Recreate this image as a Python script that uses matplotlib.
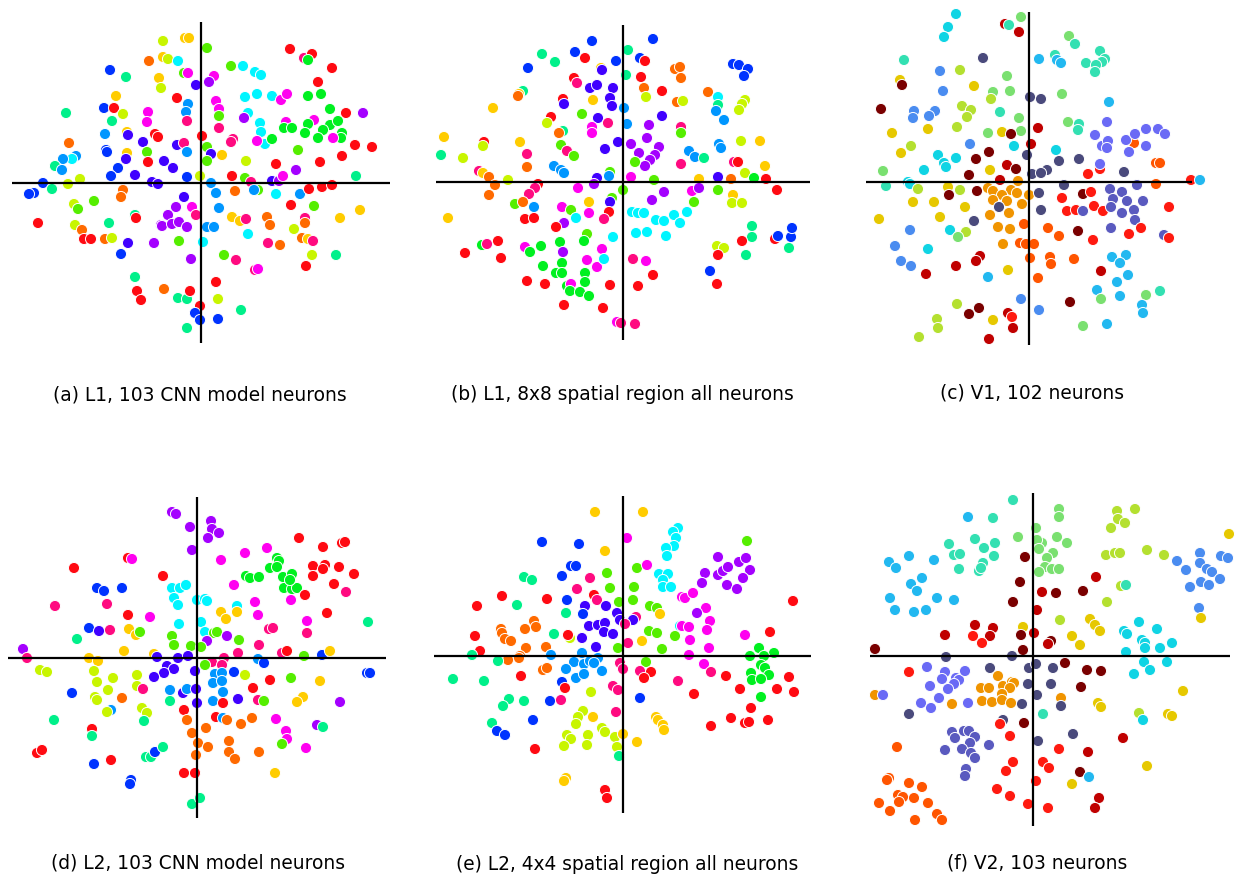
import matplotlib
matplotlib.use("Agg")
import matplotlib.pyplot as plt

# 2-D embeddings of neuron tuning, one list of (x, y, colour code) per panel
pts_a = [
    (-38,142,'l'),(-16,145,'y'),(-12,145,'y'),(-52,122,'o'),(-38,126,'y'),(-33,124,'l'),(-23,122,'c'),
    (-91,113,'b'),(-75,106,'s'),(-42,105,'y'),(-17,110,'g'),(-13,110,'m'),(-5,98,'v'),(-40,95,'l'),
    (-24,85,'r'),(-85,87,'y'),(-97,75,'b'),(-87,75,'r'),(-78,69,'l'),(-135,70,'s'),(-13,79,'a'),
    (-15,71,'a'),(-14,62,'k'),(-89,62,'s'),(-53,71,'m'),(-54,61,'m'),(-96,49,'a'),(-74,51,'y'),
    (-73,48,'v'),(-46,49,'r'),(-43,46,'r'),(1,47,'r'),(-132,40,'o'),(-58,41,'v'),(-24,38,'v'),
    (-17,40,'k'),(-95,33,'b'),(-94,31,'b'),(-74,30,'y'),(-75,24,'v'),(-54,31,'g'),(-53,21,'r'),
    (-14,31,'a'),(-125,27,'a'),(-129,24,'c'),(-138,24,'a'),(-146,17,'s'),(-139,13,'a'),(-37,22,'v'),
    (-28,15,'v'),(-83,15,'b'),(-90,7,'b'),(-66,8,'v'),(-121,4,'l'),(-14,6,'b'),(-1,7,'l'),
    (-158,0,'b'),(-133,-1,'l'),(-167,-10,'b'),(-172,-11,'b'),(-149,-6,'s'),(-49,1,'v'),(-43,-1,'v'),
    (-78,-7,'o'),(-80,-14,'o'),(-17,-14,'v'),(-127,-21,'l'),(-123,-26,'g'),(-107,-18,'g'),
    (-25,-24,'p'),(-33,-32,'p'),(-9,-24,'m'),(-5,-32,'k'),(-163,-40,'r'),(-126,-42,'l'),(-119,-47,'o'),
    (-92,-40,'s'),(-66,-32,'s'),(-65,-35,'r'),(-40,-42,'p'),(-39,-43,'p'),(-29,-41,'p'),(-22,-39,'p'),
    (-14,-44,'p'),(-117,-56,'r'),(-110,-56,'r'),(-96,-56,'o'),(-89,-55,'l'),(-73,-60,'v'),(-80,-71,'b'),
    (-47,-60,'p'),(-22,-58,'g'),(2,-59,'c'),(-10,-76,'p'),(-66,-94,'s'),(-64,-108,'r'),
    (-60,-117,'r'),(-37,-106,'o'),(-23,-115,'s'),(-14,-116,'s'),(-11,-108,'r'),(-1,-123,'r'),
    (-6,-130,'b'),(-1,-137,'b'),(-14,-145,'s'),
    (6,135,'g'),(89,134,'r'),(103,125,'k'),(111,129,'r'),(107,123,'G'),(131,115,'r'),(30,117,'g'),
    (42,117,'c'),(54,111,'c'),(60,108,'c'),(13,107,'m'),(8,101,'p'),(117,101,'r'),(44,86,'c'),
    (56,89,'c'),(71,87,'c'),(80,83,'m'),(86,89,'m'),(107,87,'G'),(120,89,'G'),(15,82,'m'),(18,74,'m'),
    (18,67,'g'),(129,74,'G'),(145,70,'r'),(162,70,'p'),(47,70,'c'),(43,65,'p'),(59,60,'c'),(60,51,'c'),
    (64,39,'c'),(85,61,'m'),(83,55,'G'),(91,55,'G'),(113,63,'m'),(107,59,'G'),(129,58,'G'),(137,62,'G'),
    (122,53,'G'),(104,50,'G'),(117,45,'G'),(141,50,'G'),(140,45,'G'),(18,55,'k'),(32,44,'k'),(30,41,'k'),
    (56,42,'m'),(71,44,'G'),(132,45,'m'),(154,38,'r'),(171,36,'r'),(6,36,'g'),(10,29,'v'),(6,22,'g'),
    (21,28,'y'),(97,33,'g'),(141,27,'r'),(45,22,'l'),(75,19,'r'),(119,21,'r'),(95,13,'p'),(155,7,'s'),
    (31,7,'r'),(44,5,'g'),(50,1,'k'),(71,2,'v'),(78,2,'p'),(82,7,'m'),(10,0,'a'),(15,-10,'a'),(34,-8,'o'),
    (57,-7,'g'),(53,-7,'a'),(75,-11,'c'),(99,-11,'a'),(108,-6,'r'),(121,-4,'r'),(131,-2,'r'),(90,-22,'r'),
    (113,-23,'g'),(18,-25,'a'),(159,-27,'y'),(31,-34,'y'),(39,-38,'y'),(45,-36,'k'),(66,-34,'o'),(69,-42,'o'),
    (104,-35,'k'),(104,-40,'o'),(139,-35,'y'),(6,-44,'a'),(13,-44,'a'),(47,-51,'c'),(93,-46,'l'),
    (101,-55,'o'),(107,-56,'y'),(112,-58,'k'),(67,-60,'k'),(79,-62,'o'),(23,-72,'g'),(35,-77,'k'),
    (54,-87,'k'),(57,-86,'m'),(111,-72,'l'),(135,-72,'s'),(105,-83,'r'),(15,-99,'r'),(17,-116,'l'),
    (40,-127,'s'),(17,-136,'b'),
]

pts_b = [
    (-31,141,'b'),(-81,128,'s'),(-68,120,'s'),(-48,130,'b'),(-38,124,'r'),(-7,121,'b'),(-95,114,'b'),
    (-22,114,'y'),(-21,112,'v'),(-49,104,'r'),(-46,99,'k'),(-33,94,'v'),(-26,97,'v'),(-10,94,'v'),
    (-100,91,'s'),(-104,88,'y'),(-105,86,'o'),(-13,84,'v'),(-11,76,'v'),(-130,74,'y'),(-30,82,'y'),
    (-60,83,'r'),(-59,78,'v'),(1,74,'a'),(-41,68,'g'),(-72,65,'r'),(-76,59,'l'),(-25,64,'v'),(-15,59,'k'),
    (-31,55,'m'),(-31,49,'m'),(-60,51,'s'),(-64,49,'o'),(-179,45,'y'),(-139,40,'r'),(-140,36,'l'),
    (-103,40,'y'),(-5,40,'v'),(-62,37,'g'),(-56,31,'k'),(-49,26,'g'),(-18,33,'v'),(-182,27,'s'),
    (-160,24,'l'),(-96,28,'k'),(-96,15,'o'),(-69,16,'a'),(-62,12,'a'),(-59,9,'a'),(-144,11,'k'),
    (-140,9,'y'),(-134,5,'o'),(-13,10,'g'),(-14,6,'a'),(-26,4,'v'),(-29,-2,'p'),(-115,2,'l'),(-85,-2,'r'),
    (-88,-6,'k'),(-128,-3,'o'),(-134,-13,'o'),(-94,-12,'k'),(-45,-6,'m'),(0,-8,'g'),(-11,-16,'g'),
    (-13,-20,'v'),(-34,-20,'y'),(-108,-22,'g'),(-100,-20,'o'),(-89,-25,'a'),(-61,-25,'m'),(-52,-28,'g'),
    (-175,-36,'y'),(-98,-37,'r'),(-89,-36,'r'),(-14,-30,'r'),(-19,-37,'k'),(-34,-31,'m'),(-47,-36,'c'),
    (-59,-41,'p'),(-67,-45,'r'),(-36,-52,'g'),(-39,-59,'G'),(-10,-55,'c'),(-63,-60,'G'),(-125,-59,'r'),
    (-141,-63,'G'),(-136,-62,'k'),(-158,-71,'r'),(-122,-76,'r'),(-98,-65,'m'),(-93,-70,'G'),(-82,-64,'G'),
    (-60,-70,'p'),(-21,-67,'m'),(-36,-78,'m'),(-26,-85,'m'),(-19,-77,'c'),(-61,-81,'G'),(-80,-84,'G'),
    (-67,-91,'G'),(-61,-91,'G'),(-38,-91,'G'),(-38,-100,'G'),(-96,-99,'r'),(-78,-102,'r'),(-56,-104,'G'),
    (-52,-102,'m'),(-53,-109,'G'),(-43,-110,'G'),(-34,-114,'G'),(-13,-103,'r'),(-59,-123,'r'),
    (-20,-126,'r'),(-6,-140,'m'),(-2,-141,'k'),
    (30,143,'b'),(5,132,'s'),(17,124,'b'),(22,121,'r'),(3,107,'s'),(18,105,'r'),(52,113,'o'),(57,115,'o'),
    (58,104,'o'),(21,94,'o'),(23,85,'l'),(39,91,'r'),(54,80,'o'),(60,81,'l'),(85,90,'o'),(95,85,'c'),
    (95,77,'s'),(93,71,'a'),(101,62,'a'),(110,118,'b'),(116,117,'b'),(125,113,'b'),(121,106,'b'),
    (122,82,'l'),(119,78,'l'),(116,72,'l'),(39,66,'v'),(4,58,'a'),(26,57,'p'),(58,55,'k'),(58,49,'g'),
    (24,44,'p'),(8,38,'p'),(16,29,'p'),(36,35,'p'),(32,27,'p'),(27,22,'p'),(22,16,'p'),(12,20,'g'),
    (118,41,'l'),(137,41,'y'),(96,38,'a'),(98,34,'a'),(66,31,'a'),(72,25,'a'),(81,24,'s'),(58,18,'k'),
    (111,20,'k'),(115,20,'r'),(142,16,'y'),(122,9,'l'),(8,5,'m'),(31,2,'g'),(76,3,'y'),(95,5,'v'),
    (108,3,'o'),(131,4,'G'),(143,3,'r'),(154,-8,'r'),(41,-10,'p'),(29,-18,'p'),(69,-9,'m'),(76,-6,'p'),
    (71,-20,'g'),(95,-8,'g'),(110,-13,'y'),(109,-21,'l'),(119,-21,'l'),(9,-30,'c'),(15,-31,'c'),
    (21,-31,'c'),(33,-38,'c'),(41,-39,'c'),(51,-33,'c'),(64,-30,'c'),(57,-41,'c'),(13,-51,'c'),
    (24,-50,'c'),(43,-54,'c'),(129,-44,'s'),(129,-55,'s'),(119,-59,'r'),(152,-57,'r'),(155,-54,'b'),
    (168,-55,'b'),(169,-46,'b'),(166,-66,'s'),(94,-64,'l'),(101,-66,'l'),(95,-73,'r'),(123,-73,'s'),
    (10,-77,'k'),(23,-79,'m'),(30,-93,'r'),(15,-104,'r'),(87,-89,'b'),(94,-102,'r'),(12,-142,'k'),
]

pts_c = [
    (-73,168,'c'),(-81,155,'c'),(-85,145,'c'),(-24,158,'R'),(-20,157,'s'),(-8,165,'g'),(-10,150,'R'),
    (-125,122,'s'),(-46,124,'n'),(-89,111,'b'),(-69,112,'l'),(-129,102,'y'),(-127,97,'D'),(-22,106,'g'),
    (-55,96,'y'),(-86,91,'b'),(-36,90,'g'),(-38,83,'l'),(-19,91,'g'),(1,85,'n'),(-148,73,'D'),(-115,71,'b'),
    (-116,64,'b'),(-94,71,'b'),(-100,66,'b'),(-67,76,'l'),(-58,72,'l'),(-62,65,'l'),(-29,70,'s'),
    (-10,64,'g'),(-72,55,'l'),(-101,53,'y'),(-137,49,'y'),(-41,49,'g'),(-8,51,'g'),(-27,50,'y'),
    (-18,48,'D'),(9,54,'R'),(-59,38,'b'),(-118,36,'l'),(-128,29,'y'),(-15,36,'c'),(2,38,'R'),(-40,30,'D'),
    (-91,27,'c'),(-73,24,'c'),(-53,23,'D'),(-2,27,'n'),(-85,19,'c'),(-83,15,'c'),(-105,12,'c'),(-22,17,'R'),
    (-13,13,'D'),(-39,12,'y'),(-60,7,'D'),(-146,11,'g'),(-29,2,'R'),(-11,1,'O'),(3,8,'n'),(-143,-4,'s'),
    (-121,0,'c'),(-119,-2,'c'),(-111,-7,'l'),(-81,-5,'y'),(-80,-13,'D'),(-69,-8,'l'),(-52,-9,'D'),
    (-41,-6,'O'),(-36,-9,'O'),(-18,-8,'O'),(-12,-11,'O'),(-27,-13,'O'),(-22,-19,'O'),(-36,-18,'O'),
    (-30,-25,'n'),(-7,-22,'O'),(0,-13,'O'),(-116,-20,'y'),(-95,-20,'y'),(-64,-25,'y'),(-150,-37,'y'),
    (-89,-35,'y'),(-55,-39,'n'),(-20,-31,'O'),(-39,-33,'O'),(-31,-45,'O'),(-19,-47,'O'),(-5,-42,'o'),
    (-119,-48,'b'),(-79,-48,'c'),(-63,-50,'l'),(-71,-55,'g'),(-134,-64,'b'),(-26,-62,'O'),(-9,-61,'o'),
    (-3,-62,'o'),(5,-62,'o'),(-101,-67,'c'),(-128,-79,'b'),(-118,-84,'b'),(-103,-92,'R'),(-73,-84,'R'),
    (-49,-74,'R'),(-53,-79,'R'),(1,-76,'o'),(-41,-95,'a'),(-21,-88,'y'),(-8,-117,'b'),(-72,-122,'l'),
    (-50,-126,'D'),(-60,-132,'D'),(-92,-137,'l'),(-91,-146,'l'),(-110,-155,'l'),(-36,-138,'y'),
    (-21,-131,'R'),(-17,-135,'r'),(-16,-146,'R'),(-40,-157,'R'),
    (40,146,'g'),(46,138,'s'),(10,123,'a'),(26,127,'s'),(28,122,'a'),(32,119,'a'),(57,119,'s'),(71,131,'s'),
    (76,123,'s'),(73,120,'s'),(67,117,'s'),(66,110,'s'),(12,83,'n'),(33,88,'g'),(80,80,'a'),(39,60,'g'),
    (50,58,'s'),(49,52,'s'),(78,60,'v'),(66,47,'v'),(73,36,'v'),(79,41,'v'),(78,34,'v'),(105,39,'o'),
    (97,42,'v'),(106,48,'v'),(117,53,'v'),(129,53,'v'),(136,48,'v'),(117,36,'v'),(100,30,'v'),(27,32,'c'),
    (30,21,'n'),(50,23,'n'),(71,13,'r'),(71,18,'v'),(59,8,'r'),(127,19,'o'),(131,19,'o'),(95,10,'n'),
    (18,12,'n'),(12,9,'n'),(162,2,'r'),(171,2,'a'),(35,-3,'n'),(127,-2,'o'),(10,-11,'n'),(33,-16,'r'),
    (54,-12,'D'),(62,-10,'r'),(81,-7,'w'),(93,-10,'w'),(84,-17,'w'),(98,-19,'w'),(114,-19,'w'),(108,-3,'w'),
    (38,-29,'r'),(47,-28,'r'),(54,-29,'w'),(65,-24,'r'),(74,-29,'r'),(82,-25,'w'),(93,-31,'w'),(105,-28,'w'),
    (106,-38,'w'),(12,-28,'n'),(140,-25,'r'),(19,-46,'o'),(30,-54,'o'),(49,-49,'D'),(82,-46,'w'),
    (112,-46,'r'),(100,-52,'r'),(64,-58,'r'),(135,-53,'w'),(140,-56,'r'),(21,-75,'o'),(22,-82,'o'),
    (45,-77,'o'),(83,-75,'a'),(97,-73,'a'),(91,-81,'a'),(99,-93,'a'),(88,-100,'a'),(68,-108,'a'),(91,-114,'a'),
    (72,-89,'R'),(9,-96,'o'),(72,-117,'g'),(117,-113,'g'),(131,-109,'s'),(113,-123,'a'),(114,-131,'a'),
    (41,-120,'D'),(10,-128,'b'),(54,-144,'g'),(78,-142,'a'),
]

pts_d = [
    (-25,146,'p'),(-21,144,'p'),(-7,131,'p'),(-5,108,'p'),(-123,90,'r'),(-69,100,'r'),(-65,99,'m'),
    (-34,82,'r'),(-100,70,'b'),(-93,67,'b'),(-75,70,'b'),(-25,70,'c'),(-17,70,'c'),(-11,73,'c'),
    (-23,60,'c'),(-19,53,'c'),(-142,52,'k'),(-90,54,'k'),(-69,43,'r'),(-47,41,'m'),(-108,30,'b'),
    (-98,27,'v'),(-87,28,'k'),(-68,29,'y'),(-61,23,'y'),(-57,26,'g'),(-18,34,'c'),(-25,22,'g'),
    (-23,13,'g'),(-120,19,'s'),(-6,12,'g'),(-174,9,'p'),(-170,0,'k'),(-73,7,'y'),(-108,0,'y'),(-99,-3,'y'),
    (-43,4,'y'),(-40,1,'v'),(-19,0,'v'),(-9,2,'v'),(-30,-8,'v'),(-23,-11,'v'),(-33,-15,'v'),(-43,-19,'v'),
    (-2,-13,'v'),(-157,-12,'l'),(-150,-14,'l'),(-103,-13,'l'),(-100,-24,'l'),(-84,-20,'l'),(-60,-17,'l'),
    (-60,-28,'l'),(-54,-31,'k'),(-89,-32,'l'),(-125,-35,'b'),(-102,-39,'l'),(-100,-42,'l'),(-75,-40,'o'),
    (-27,-32,'a'),(-14,-35,'v'),(-10,-31,'a'),(-1,-31,'v'),(-27,-43,'s'),(0,-45,'v'),(-86,-52,'a'),
    (-90,-54,'l'),(-55,-50,'l'),(-50,-55,'l'),(-53,-63,'s'),(-143,-62,'s'),(-13,-52,'r'),(-10,-62,'o'),
    (-105,-71,'r'),(-105,-78,'s'),(-5,-75,'o'),(1,-85,'o'),(-160,-95,'r'),(-155,-92,'r'),(-103,-106,'b'),
    (-86,-102,'r'),(-51,-99,'s'),(-46,-99,'s'),(-42,-94,'b'),(-34,-89,'s'),(-1,-97,'o'),(-13,-115,'r'),
    (-2,-115,'r'),(-66,-122,'b'),(-67,-126,'b'),(-5,-146,'s'),(3,-140,'s'),
    (14,137,'p'),(15,129,'p'),(11,120,'p'),(22,125,'p'),(102,120,'r'),(126,111,'r'),(145,115,'r'),
    (148,116,'r'),(48,105,'m'),(70,110,'m'),(24,98,'m'),(80,100,'G'),(82,97,'G'),(73,90,'G'),(80,91,'G'),
    (116,92,'r'),(128,93,'r'),(126,89,'r'),(142,91,'r'),(116,82,'r'),(157,84,'r'),(49,82,'G'),(53,80,'G'),
    (62,81,'G'),(86,81,'G'),(95,84,'G'),(87,70,'G'),(95,69,'G'),(100,70,'G'),(93,78,'G'),(37,73,'m'),
    (137,74,'r'),(149,66,'k'),(108,63,'r'),(94,58,'m'),(58,56,'m'),(61,43,'m'),(0,58,'c'),(8,59,'c'),
    (10,57,'c'),(40,52,'c'),(24,46,'y'),(29,39,'y'),(40,46,'y'),(130,45,'r'),(171,36,'s'),(4,36,'c'),
    (110,37,'m'),(110,25,'k'),(72,29,'k'),(76,30,'k'),(8,26,'c'),(17,25,'g'),(20,26,'g'),(30,22,'p'),
    (10,17,'p'),(42,18,'g'),(4,11,'g'),(62,13,'k'),(41,5,'k'),(27,0,'k'),(15,-4,'k'),(25,-7,'k'),
    (85,5,'k'),(90,7,'r'),(107,2,'g'),(125,3,'b'),(133,7,'y'),(61,-1,'a'),(67,-5,'b'),(8,-7,'g'),
    (18,-16,'a'),(25,-15,'a'),(16,-25,'a'),(25,-23,'a'),(26,-34,'a'),(37,-14,'b'),(48,-17,'l'),
    (73,-22,'r'),(94,-20,'g'),(170,-15,'b'),(173,-15,'b'),(123,-23,'y'),(56,-30,'r'),(16,-43,'a'),
    (26,-45,'r'),(41,-41,'v'),(61,-42,'k'),(67,-43,'g'),(106,-39,'y'),(100,-44,'y'),(143,-44,'p'),
    (19,-59,'r'),(26,-60,'a'),(30,-62,'o'),(44,-66,'o'),(55,-60,'o'),(79,-61,'m'),(120,-67,'p'),
    (126,-69,'s'),(89,-73,'m'),(90,-81,'m'),(85,-86,'g'),(109,-90,'m'),(9,-70,'o'),(11,-89,'o'),
    (32,-83,'o'),(32,-94,'o'),(38,-101,'o'),(62,-94,'o'),(78,-115,'y'),
]

pts_e = [
    (-28,144,'y'),(-81,114,'b'),(-44,112,'b'),(-18,105,'y'),(-52,90,'b'),(-47,90,'b'),(-61,80,'b'),
    (-99,79,'s'),(-91,76,'s'),(-33,78,'k'),(-16,83,'g'),(-13,68,'g'),(-46,67,'k'),(-121,60,'r'),
    (-76,57,'r'),(-56,56,'b'),(-29,61,'r'),(-26,56,'k'),(-4,54,'g'),(-146,50,'r'),(-106,51,'s'),
    (-38,50,'v'),(-17,50,'v'),(-57,43,'s'),(-40,42,'b'),(-6,43,'v'),(-3,36,'v'),(-89,35,'o'),(-87,29,'o'),
    (-98,27,'o'),(-122,27,'o'),(-121,23,'o'),(-118,17,'o'),(-112,15,'o'),(-34,30,'v'),(-25,31,'v'),
    (-18,33,'v'),(-19,24,'v'),(-10,22,'v'),(-69,22,'s'),(-53,18,'l'),(-55,21,'r'),(-41,18,'v'),
    (-148,20,'r'),(-27,9,'v'),(-5,8,'g'),(-97,8,'o'),(-77,9,'o'),(-143,5,'r'),(-151,1,'s'),(-103,0,'o'),
    (-104,-2,'o'),(-72,1,'a'),(-41,3,'a'),(-115,-4,'o'),(-125,-5,'s'),(-49,-6,'a'),(-39,-8,'a'),
    (-33,-5,'a'),(-25,-2,'a'),(-29,-7,'a'),(-3,-7,'k'),(0,-13,'k'),(-80,-14,'o'),(-76,-12,'o'),
    (-57,-13,'a'),(-21,-15,'a'),(-47,-22,'a'),(-39,-18,'a'),(-102,-20,'r'),(-170,-23,'s'),(-139,-25,'s'),
    (-61,-26,'b'),(-58,-32,'r'),(-10,-30,'k'),(-5,-34,'k'),(-32,-36,'l'),(-114,-43,'s'),(-120,-50,'s'),
    (-99,-45,'s'),(-73,-45,'b'),(-62,-44,'k'),(-7,-56,'k'),(-40,-55,'l'),(-45,-61,'l'),(-47,-68,'l'),
    (-30,-61,'y'),(-90,-64,'b'),(-131,-67,'s'),(-126,-75,'b'),(-118,-79,'b'),(-21,-72,'l'),(-18,-76,'l'),
    (-35,-79,'l'),(-36,-89,'l'),(-56,-79,'l'),(-52,-83,'l'),(-59,-90,'l'),(-8,-81,'l'),(-6,-91,'l'),
    (-4,-100,'s'),(0,-78,'y'),(-88,-93,'r'),(-57,-122,'y'),(-59,-125,'y'),(-18,-134,'r'),(-16,-142,'r'),
    (20,144,'y'),(4,118,'m'),(55,128,'c'),(50,124,'c'),(53,118,'c'),(51,110,'c'),(43,108,'c'),(44,100,'c'),
    (124,115,'g'),(14,88,'g'),(24,91,'m'),(36,82,'c'),(45,82,'c'),(40,76,'c'),(40,69,'c'),(48,69,'c'),
    (95,99,'p'),(82,83,'p'),(79,73,'p'),(95,81,'p'),(100,85,'p'),(105,89,'p'),(116,94,'p'),(123,98,'p'),
    (127,86,'p'),(120,78,'p'),(104,71,'p'),(114,67,'p'),(11,69,'g'),(10,56,'g'),(59,59,'m'),(62,58,'m'),
    (70,63,'m'),(170,55,'r'),(27,50,'g'),(34,48,'g'),(37,42,'y'),(13,39,'k'),(10,36,'v'),(2,32,'k'),
    (83,48,'m'),(74,43,'p'),(87,35,'m'),(57,30,'c'),(59,30,'m'),(66,29,'m'),(84,26,'m'),(26,25,'g'),
    (34,23,'g'),(52,20,'g'),(147,24,'r'),(122,21,'m'),(67,16,'m'),(19,15,'y'),(5,13,'k'),(39,7,'g'),
    (86,8,'m'),(136,8,'G'),(151,3,'G'),(141,0,'G'),(127,0,'G'),(66,1,'m'),(23,-6,'g'),(17,-15,'k'),
    (28,-16,'r'),(21,-22,'r'),(81,-8,'m'),(88,-16,'k'),(103,-20,'r'),(138,-9,'G'),(142,-12,'G'),
    (146,-19,'G'),(128,-17,'G'),(129,-24,'G'),(138,-23,'G'),(55,-25,'k'),(166,-21,'r'),(117,-33,'r'),
    (154,-33,'r'),(171,-36,'r'),(71,-38,'r'),(138,-41,'G'),(17,-42,'b'),(128,-52,'r'),(108,-62,'r'),
    (122,-67,'r'),(126,-66,'r'),(145,-64,'r'),(88,-70,'r'),(33,-61,'y'),(35,-64,'y'),(40,-69,'y'),
    (41,-74,'y'),(14,-86,'y'),
]

pts_f = [
    (-20,156,'s'),(-65,139,'a'),(-40,138,'s'),(-15,119,'g'),(-58,117,'s'),(-49,108,'s'),(-38,113,'s'),
    (-39,100,'s'),(-84,112,'s'),(-79,101,'s'),(-73,102,'s'),(-74,87,'s'),(-50,93,'s'),(-54,85,'s'),
    (-52,88,'s'),(-8,99,'D'),(-144,94,'a'),(-137,88,'a'),(-124,100,'a'),(-99,96,'a'),(-111,78,'a'),
    (-122,72,'a'),(-116,65,'a'),(-143,58,'a'),(-138,46,'a'),(-119,44,'a'),(-107,46,'a'),(-96,58,'a'),
    (-79,56,'a'),(-13,74,'D'),(-20,54,'D'),(-58,31,'R'),(-40,28,'R'),(-60,20,'r'),(-43,20,'R'),(-51,13,'r'),
    (-88,21,'R'),(-10,29,'y'),(-12,21,'D'),(-10,6,'D'),(-158,7,'D'),(-87,-1,'n'),(-21,0,'n'),(-4,-12,'n'),
    (-5,-28,'n'),(-11,-48,'n'),(-124,-16,'r'),(-106,-11,'v'),(-88,-16,'v'),(-91,-23,'v'),(-77,-22,'v'),
    (-74,-24,'v'),(-68,-15,'v'),(-79,-28,'v'),(-85,-33,'v'),(-103,-30,'v'),(-94,-42,'v'),(-112,-47,'v'),
    (-102,-52,'v'),(-65,-47,'v'),(-43,-12,'n'),(-35,-20,'O'),(-52,-32,'O'),(-44,-32,'O'),(-30,-30,'O'),
    (-21,-26,'O'),(-19,-27,'O'),(-23,-32,'O'),(-31,-38,'O'),(-51,-45,'O'),(-41,-46,'O'),(-31,-44,'O'),
    (-22,-47,'O'),(-81,-48,'O'),(-158,-39,'O'),(-150,-39,'v'),(-124,-58,'n'),(-30,-64,'n'),(-33,-68,'r'),
    (-9,-67,'D'),(-23,-80,'r'),(-81,-76,'w'),(-78,-82,'w'),(-69,-75,'w'),(-64,-75,'w'),(-58,-81,'w'),
    (-63,-87,'w'),(-71,-93,'w'),(-62,-97,'w'),(-58,-102,'w'),(-88,-94,'w'),(-44,-89,'w'),(-67,-113,'w'),
    (-68,-120,'w'),(-136,-91,'o'),(-20,-106,'r'),(-27,-115,'r'),(-36,-133,'r'),(-23,-140,'r'),(-5,-148,'r'),
    (-144,-122,'o'),(-146,-124,'o'),(-124,-127,'o'),(-111,-131,'o'),(-135,-139,'o'),(-130,-141,'o'),
    (-134,-146,'o'),(-119,-142,'o'),(-154,-147,'o'),(-143,-155,'o'),(-105,-147,'o'),(-96,-158,'o'),
    (-91,-164,'o'),(-118,-164,'o'),
    (26,147,'g'),(26,139,'g'),(3,128,'g'),(9,113,'g'),(4,116,'g'),(6,107,'g'),(24,119,'g'),(34,113,'g'),
    (20,103,'g'),(14,98,'g'),(12,89,'g'),(19,87,'g'),(26,87,'g'),(6,84,'g'),(84,145,'l'),(102,147,'l'),
    (85,137,'l'),(92,133,'l'),(78,128,'l'),(114,106,'l'),(131,101,'l'),(73,101,'l'),(82,103,'l'),(87,103,'l'),
    (196,122,'y'),(144,95,'b'),(153,86,'b'),(167,103,'b'),(167,93,'b'),(174,87,'b'),(179,84,'b'),(188,100,'b'),
    (195,98,'b'),(187,77,'b'),(168,74,'b'),(176,71,'b'),(157,69,'b'),(63,79,'R'),(9,64,'R'),(23,63,'D'),
    (50,65,'D'),(88,70,'l'),(93,71,'s'),(74,54,'l'),(4,46,'R'),(166,48,'b'),(168,38,'y'),(27,36,'l'),
    (57,37,'y'),(62,31,'y'),(67,25,'y'),(39,20,'y'),(47,11,'y'),(1,23,'R'),(18,15,'D'),(15,12,'R'),
    (91,25,'c'),(94,22,'c'),(106,34,'c'),(124,27,'c'),(109,16,'c'),(112,13,'c'),(112,8,'c'),(93,4,'c'),
    (127,8,'c'),(139,13,'c'),(111,-6,'c'),(117,-14,'c'),(134,-6,'c'),(101,-18,'c'),(3,-8,'n'),(20,-12,'n'),
    (32,-7,'D'),(54,-14,'D'),(68,-15,'D'),(18,-28,'n'),(48,-31,'D'),(4,-39,'n'),(28,-42,'O'),(28,-50,'n'),
    (65,-47,'y'),(68,-51,'y'),(150,-35,'y'),(10,-58,'s'),(106,-57,'l'),(110,-64,'c'),(135,-58,'y'),
    (139,-60,'y'),(90,-82,'R'),(5,-85,'n'),(40,-78,'n'),(26,-93,'r'),(55,-96,'R'),(10,-106,'r'),
    (16,-112,'r'),(47,-116,'D'),(56,-121,'a'),(114,-110,'y'),(3,-125,'r'),(39,-128,'y'),(66,-142,'R'),
    (62,-152,'R'),(15,-152,'r'),
]

# hue classes used for the CNN panels
hue_colors = {'r': '#ff0a12', 'o': '#ff6a00', 'y': '#ffcc00', 'l': '#c8f500', 'g': '#55ee00',
              'G': '#00f020', 's': '#00f08a', 'c': '#00f5ff', 'a': '#0096ff', 'b': '#0033ff',
              'v': '#4000ff', 'p': '#a400ff', 'm': '#ff00f0', 'k': '#ff0a80'}
# cluster colours used for the recorded V1 / V2 panels
cluster_colors = {'D': '#7a0000', 'R': '#c00000', 'r': '#ff1a10', 'o': '#ff5500', 'O': '#f09400',
                  'y': '#e6c800', 'l': '#b4e030', 'g': '#7ae070', 's': '#33e0b2', 'c': '#10d4e4',
                  'a': '#22b8f0', 'b': '#4a8cf0', 'v': '#6a6af5', 'w': '#5a5abf', 'n': '#4a4a7c'}

captions = ["(a) L1, 103 CNN model neurons", "(b) L1, 8x8 spatial region all neurons",
            "(c) V1, 102 neurons", "(d) L2, 103 CNN model neurons",
            "(e) L2, 4x4 spatial region all neurons", "(f) V2, 103 neurons"]

W, H = 1236, 876
fig = plt.figure(figsize=(W / 100, H / 100), dpi=100)

# panel boxes in pixels: left, top, right, bottom, origin x, origin y, caption x, caption y
panels = [
    (pts_a, hue_colors, (12, 22, 390, 343, 201, 183, 200, 395)),
    (pts_b, hue_colors, (436, 25, 810, 340, 623, 182, 622, 395)),
    (pts_c, cluster_colors, (866, 12, 1192, 345, 1029, 182, 1032, 393)),
    (pts_d, hue_colors, (8, 497, 386, 818, 197, 658, 198, 863)),
    (pts_e, hue_colors, (434, 496, 811, 813, 623, 656, 627, 864)),
    (pts_f, cluster_colors, (870, 493, 1230, 826, 1033, 656, 1037, 863)),
]

for (pts, cmap, box), cap in zip(panels, captions):
    l, t, r, b, ox, oy, tx, ty = box
    ax = fig.add_axes([l / W, 1 - b / H, (r - l) / W, (b - t) / H])
    xs = [p[0] for p in pts]
    ys = [p[1] for p in pts]
    cs = [cmap[p[2]] for p in pts]
    ax.scatter(xs, ys, s=64, c=cs, edgecolors='white', linewidths=0.7, zorder=2, clip_on=False)
    ax.axhline(0, color='black', lw=1.6, zorder=3)
    ax.axvline(0, color='black', lw=1.6, zorder=3)
    ax.set_xlim(l - ox, r - ox)
    ax.set_ylim(oy - b, oy - t)
    ax.axis('off')
    fig.text(tx / W, 1 - ty / H, cap, ha='center', va='center', fontsize=13.4)

fig.savefig("out.png", dpi=100)
